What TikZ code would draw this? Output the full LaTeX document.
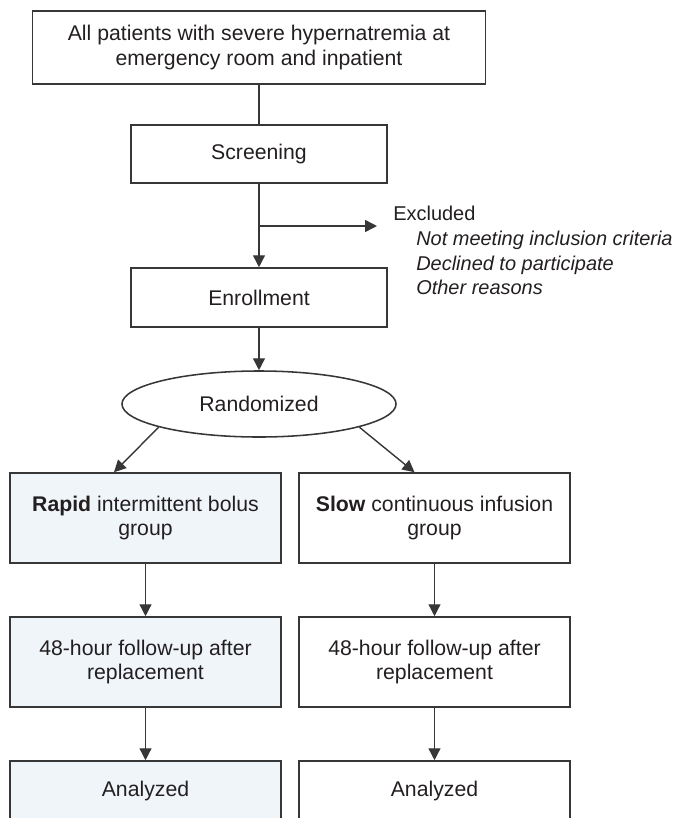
\documentclass[tikz,border=0pt]{standalone}
\usepackage{fontspec}
\setmainfont{Liberation Sans}
\usetikzlibrary{shapes.geometric,arrows.meta,calc}
\definecolor{rapidfill}{RGB}{240,245,250}
\definecolor{linegray}{RGB}{55,55,55}
\definecolor{textgray}{RGB}{35,31,32}
\newcommand{\boxfont}{\fontsize{15.1}{17.7}\selectfont}
\newcommand{\notefont}{\fontsize{14.2}{17.4}\selectfont}

\begin{document}
\begin{tikzpicture}[x=0.025cm,y=-0.025cm,
  box/.style={draw=linegray,line width=1.1pt,text=textgray,align=center,
    inner sep=0pt,font=\boxfont},
  arm/.style={minimum width=6.775cm,minimum height=2.25cm},
  link/.style={draw=linegray,line width=1pt},
  arr/.style={link,-{Triangle[length=8.5pt,width=8.5pt]}}]
  \useasboundingbox (0,0) rectangle (679,818);
  \clip (0,0) rectangle (679,818);
  \node[box,minimum width=11.325cm,minimum height=1.825cm] (all) at (259,47.5)
    {All patients with severe hypernatremia at\\emergency room and inpatient};
  \node[box,minimum width=6.4cm,minimum height=1.45cm] (screen) at (259,154) {Screening};
  \node[box,minimum width=6.4cm,minimum height=1.475cm] (enroll) at (259,297.5) {Enrollment};
  \node[box,ellipse,minimum width=6.85cm,minimum height=1.65cm] (rand) at (259,404) {Randomized};
  \node[box,arm,fill=rapidfill] (rapid) at (145.5,518) {\textbf{Rapid} intermittent bolus\\group};
  \node[box,arm] (slow) at (434.5,518) {\textbf{Slow} continuous infusion\\group};
  \node[box,arm,fill=rapidfill] (fuRapid) at (145.5,662) {48-hour follow-up after\\replacement};
  \node[box,arm] (fuSlow) at (434.5,662) {48-hour follow-up after\\replacement};
  \node[box,arm,fill=rapidfill,minimum height=1.5cm] (anRapid) at (145.5,791) {Analyzed};
  \node[box,arm,minimum height=1.5cm] (anSlow) at (434.5,791) {Analyzed};
  \node[anchor=west,text=textgray,inner sep=0pt,font=\notefont] (excl) at (393,213) {Excluded};
  \node[anchor=west,align=left,text=textgray,inner sep=0pt,font=\notefont\itshape] (why) at (416,263)
    {Not meeting inclusion criteria\\Declined to participate\\Other reasons};
  \coordinate (split) at (259,226);
  \coordinate (out) at (377,226);
  \draw[link] (all) -- (screen);
  \draw[arr] (screen) -- (enroll);
  \draw[arr] (split) -- (out);
  \draw[arr] (enroll) -- (rand);
  \draw[arr] (rand.193) -- ($(rapid.north)+(-31.5,0)$);
  \draw[arr] (rand.347) -- ($(slow.north)+(-20,0)$);
  \draw[arr] (rapid) -- (fuRapid);
  \draw[arr] (slow) -- (fuSlow);
  \draw[arr] (fuRapid) -- (anRapid);
  \draw[arr] (fuSlow) -- (anSlow);
\end{tikzpicture}
\end{document}
